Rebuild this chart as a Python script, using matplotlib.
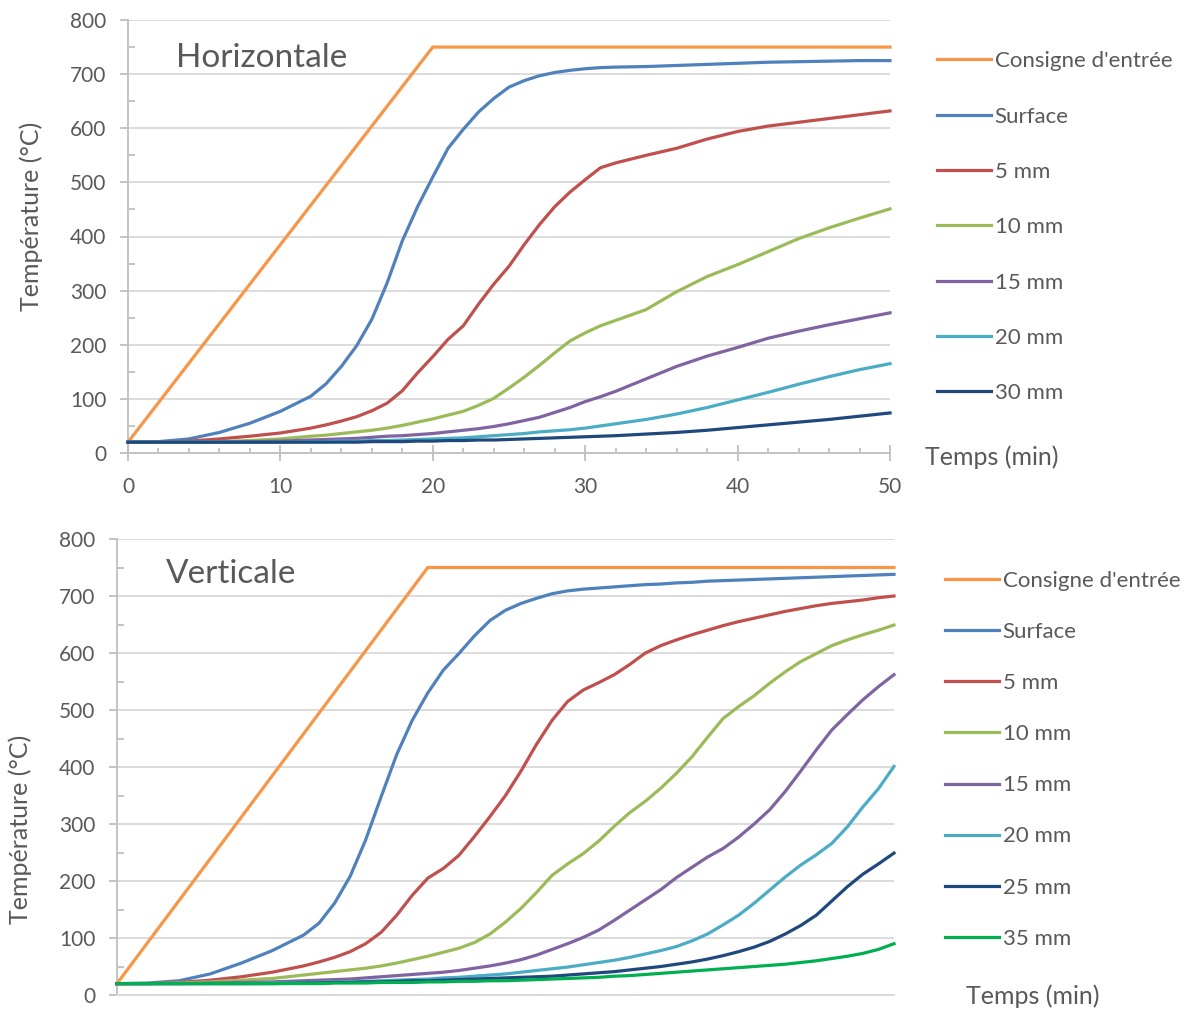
import matplotlib
matplotlib.use("Agg")
import matplotlib.pyplot as plt
from matplotlib.ticker import MultipleLocator

plt.rcParams['font.family'] = ['Lato', 'DejaVu Sans']

# ---------------- Data: Horizontale ----------------
h_time = [0, 2, 4, 6, 8, 10, 12, 13, 14, 15, 16, 17, 18, 19, 20, 21, 22, 23, 24, 25,
          26, 27, 28, 29, 30, 31, 32, 34, 36, 38, 40, 42, 44, 46, 48, 50]
h_consigne_t = [0, 20, 50]
h_consigne = [20, 750, 750]
h_surface = [20, 21, 26, 38, 55, 77, 105, 128, 160, 198, 247, 314, 392, 455, 510, 563, 598, 630, 655, 676,
             688, 697, 703, 707, 710, 712, 713, 714, 716, 718, 720, 722, 723, 724, 725, 725]
h_5mm = [20, 20, 22, 26, 31, 37, 46, 52, 59, 67, 78, 92, 115, 148, 178, 210, 235, 275, 312, 345,
         385, 422, 455, 482, 505, 527, 536, 550, 563, 580, 594, 604, 611, 618, 625, 632]
h_10mm = [20, 20, 20, 21, 23, 26, 31, 33, 36, 39, 42, 46, 51, 57, 63, 70, 77, 88, 101, 120,
          140, 162, 185, 207, 222, 235, 245, 265, 298, 326, 348, 372, 396, 416, 434, 451]
h_15mm = [20, 20, 20, 20, 21, 22, 24, 25, 26, 27, 29, 31, 32, 34, 36, 39, 42, 45, 49, 54,
          60, 66, 75, 84, 95, 104, 114, 137, 160, 179, 195, 212, 225, 237, 248, 259]
h_20mm = [20, 20, 20, 20, 20, 20, 21, 21, 22, 22, 23, 23, 24, 25, 26, 27, 28, 30, 32, 34,
          36, 39, 41, 43, 46, 50, 54, 62, 72, 84, 98, 112, 127, 141, 154, 165]
h_30mm = [20, 20, 20, 20, 20, 20, 20, 20, 20, 20, 21, 21, 21, 22, 22, 23, 23, 24, 24, 25,
          26, 27, 28, 29, 30, 31, 32, 35, 38, 42, 47, 52, 57, 62, 68, 74]
h_labels = ["Consigne d'entrée", "Surface", "5 mm", "10 mm", "15 mm", "20 mm", "30 mm"]

# ---------------- Data: Verticale ----------------
v_time = [0, 2, 4, 6, 8, 10, 12, 13, 14, 15, 16, 17, 18, 19, 20, 21, 22, 23, 24, 25,
          26, 27, 28, 29, 30, 31, 32, 33, 34, 35, 36, 37, 38, 39, 40, 41, 42, 43, 44, 45,
          46, 47, 48, 49, 50]
v_consigne_t = [0, 20, 50]
v_consigne = [20, 750, 750]
v_surface = [20, 21, 25, 37, 56, 78, 105, 126, 161, 208, 272, 348, 422, 482, 530, 570, 599, 630, 657, 675,
             687, 696, 704, 709, 712, 714, 716, 718, 720, 721, 723, 724, 726, 727, 728, 729, 730, 731, 732, 733,
             734, 735, 736, 737, 738]
v_5mm = [20, 20, 22, 26, 32, 40, 51, 58, 66, 76, 90, 110, 140, 175, 205, 222, 245, 278, 313, 350,
         393, 440, 482, 515, 535, 548, 562, 580, 600, 613, 623, 632, 640, 648, 655, 661, 667, 673, 678, 683,
         687, 690, 693, 697, 700]
v_10mm = [20, 20, 21, 23, 26, 29, 35, 38, 41, 44, 47, 51, 56, 62, 68, 75, 82, 92, 107, 128,
          152, 180, 210, 230, 248, 270, 296, 320, 340, 363, 389, 418, 452, 485, 506, 525, 547, 567, 585, 599,
          613, 623, 632, 640, 649]
v_15mm = [20, 20, 20, 21, 22, 23, 25, 26, 27, 28, 30, 32, 34, 36, 38, 40, 43, 47, 51, 56,
          62, 70, 80, 90, 101, 114, 131, 149, 167, 185, 206, 224, 242, 257, 277, 300, 325, 357, 393, 430,
          465, 492, 518, 541, 562]
v_20mm = [20, 20, 20, 20, 20, 21, 22, 22, 23, 23, 24, 25, 26, 27, 28, 30, 31, 33, 35, 37,
          40, 43, 46, 49, 53, 57, 61, 66, 72, 78, 85, 95, 107, 123, 140, 161, 184, 207, 228, 246,
          266, 295, 330, 362, 401]
v_25mm = [20, 20, 20, 20, 20, 20, 21, 21, 22, 22, 23, 23, 24, 25, 25, 26, 27, 28, 29, 30,
          31, 32, 33, 35, 37, 39, 41, 44, 47, 50, 54, 58, 63, 69, 76, 84, 94, 107, 122, 140,
          165, 190, 212, 230, 249]
v_35mm = [20, 20, 20, 20, 20, 20, 20, 20, 21, 21, 21, 22, 22, 22, 23, 23, 24, 24, 25, 25,
          26, 27, 28, 29, 30, 31, 33, 34, 36, 38, 40, 42, 44, 46, 48, 50, 52, 54, 57, 60,
          64, 68, 73, 80, 90]
v_labels = ["Consigne d'entrée", "Surface", "5 mm", "10 mm", "15 mm", "20 mm", "25 mm", "35 mm"]

y_ticks = [0, 100, 200, 300, 400, 500, 600, 700, 800]
x_ticks = [0, 10, 20, 30, 40, 50]

# ---------------- Styles ----------------
C_ORANGE = '#F79646'
C_BLUE = '#4F81BD'
C_RED = '#C0504D'
C_GREEN = '#9BBB59'
C_PURPLE = '#8064A2'
C_CYAN = '#4BACC6'
C_NAVY = '#1F497D'
C_GREEN2 = '#00B050'
TXT = '#595959'
GRID = '#D9D9D9'
SPINE = '#BFBFBF'
LW = 2.3
FS_TICK = 15
FS_LEG = 16
FS_LAB = 18
FS_TITLE = 24

W, H = 1189, 1010
fig = plt.figure(figsize=(W / 100, H / 100), dpi=100)


def px_axes(l, r, t, b):
    return fig.add_axes([l / W, 1 - b / H, (r - l) / W, (b - t) / H])


def style_axes(ax):
    ax.set_xlim(0, 50)
    ax.set_ylim(0, 800)
    ax.set_yticks(y_ticks)
    ax.yaxis.set_minor_locator(MultipleLocator(50))
    ax.grid(axis='y', which='major', color=GRID, lw=1.3, zorder=0)
    ax.set_axisbelow(True)
    for s in ['top', 'right']:
        ax.spines[s].set_visible(False)
    ax.spines['left'].set_color(SPINE)
    ax.spines['left'].set_linewidth(1.3)
    ax.spines['bottom'].set_color(SPINE)
    ax.spines['bottom'].set_linewidth(1.3)
    ax.tick_params(axis='y', which='major', direction='out', length=5.5, width=1.3,
                   color=SPINE, labelsize=FS_TICK, labelcolor=TXT, pad=10)
    ax.tick_params(axis='y', which='minor', direction='in', length=5, width=1.3, color=SPINE)


# ---------------- Top chart ----------------
ax1 = px_axes(128, 890, 20, 453)
style_axes(ax1)
ax1.set_xticks(x_ticks)
ax1.xaxis.set_minor_locator(MultipleLocator(2))
ax1.tick_params(axis='x', which='major', direction='inout', length=11, width=1.3,
                color=SPINE, labelsize=FS_TICK, labelcolor=TXT, pad=12)
ax1.tick_params(axis='x', which='minor', direction='in', length=3.5, width=1.3, color=SPINE)

series_h = [(h_consigne_t, h_consigne, C_ORANGE), (h_time, h_surface, C_BLUE),
            (h_time, h_5mm, C_RED), (h_time, h_10mm, C_GREEN), (h_time, h_15mm, C_PURPLE),
            (h_time, h_20mm, C_CYAN), (h_time, h_30mm, C_NAVY)]
for (t, v, c), lab in zip(series_h, h_labels):
    ax1.plot(t, v, color=c, lw=LW, label=lab, solid_joinstyle='round', clip_on=False, zorder=3)

ax1.text(0.063, 0.891, 'Horizontale', transform=ax1.transAxes, fontsize=FS_TITLE,
         color=TXT, ha='left', va='baseline')
ax1.set_ylabel('Température (°C)', fontsize=FS_LAB, color=TXT)
ax1.yaxis.set_label_coords(-0.1115, 0.546)
ax1.set_xlabel('Temps (min)', fontsize=FS_LAB, color=TXT, ha='left', va='center')
ax1.xaxis.set_label_coords(1.046, -0.009)
ax1.legend(loc='upper left', bbox_to_anchor=(1.0617, 0.928), frameon=False,
           fontsize=FS_LEG, labelcolor=TXT, handlelength=2.45, handletextpad=0.15,
           labelspacing=1.59, borderpad=0, borderaxespad=0)

# ---------------- Bottom chart ----------------
ax2 = px_axes(117, 894, 539, 995)
style_axes(ax2)
ax2.set_xticks([])
ax2.spines['bottom'].set_color(GRID)

series_v = [(v_consigne_t, v_consigne, C_ORANGE), (v_time, v_surface, C_BLUE),
            (v_time, v_5mm, C_RED), (v_time, v_10mm, C_GREEN), (v_time, v_15mm, C_PURPLE),
            (v_time, v_20mm, C_CYAN), (v_time, v_25mm, C_NAVY), (v_time, v_35mm, C_GREEN2)]
for (t, v, c), lab in zip(series_v, v_labels):
    ax2.plot(t, v, color=c, lw=LW, label=lab, solid_joinstyle='round', clip_on=False, zorder=3)

ax2.text(0.063, 0.9035, 'Verticale', transform=ax2.transAxes, fontsize=FS_TITLE,
         color=TXT, ha='left', va='baseline')
ax2.set_ylabel('Température (°C)', fontsize=FS_LAB, color=TXT)
ax2.yaxis.set_label_coords(-0.109, 0.363)
ax2.set_xlabel('Temps (min)', fontsize=FS_LAB, color=TXT, ha='left', va='center')
ax2.xaxis.set_label_coords(1.0925, -0.002)
ax2.legend(loc='upper left', bbox_to_anchor=(1.0656, 0.930), frameon=False,
           fontsize=FS_LEG, labelcolor=TXT, handlelength=2.45, handletextpad=0.15,
           labelspacing=1.40, borderpad=0, borderaxespad=0)

fig.savefig('out.png', dpi=100, facecolor='white')
